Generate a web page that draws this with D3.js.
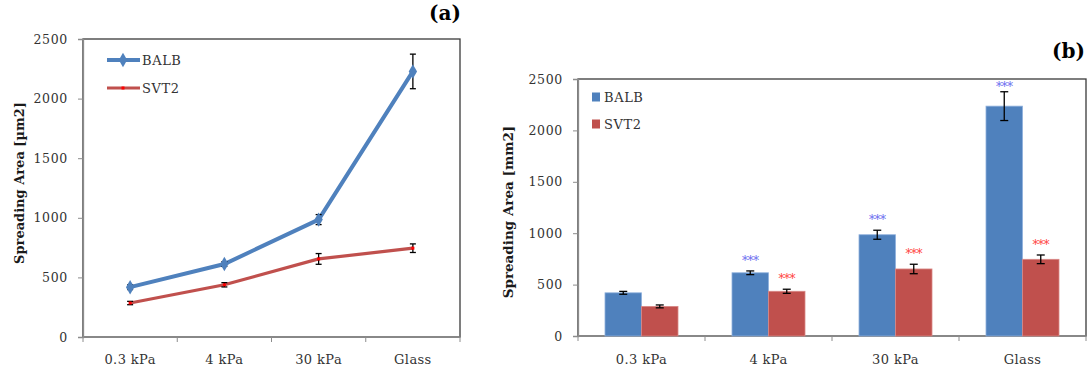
<!DOCTYPE html>
<html>
<head>
<meta charset="utf-8">
<script src="https://d3js.org/d3.v7.min.js"></script>
<style>
  body { margin: 0; background: #fff; }
  svg text { font-family: "DejaVu Serif", serif; }
</style>
</head>
<body>
<div id="chart"></div>
<script>
// Categories and tick values
var categories = ["0.3 kPa", "4 kPa", "30 kPa", "Glass"];
var yTicks = [0, 500, 1000, 1500, 2000, 2500];

// Panel (a): line chart values
var lineBalb = [418, 612, 985, 2228];
var lineBalbErr = [20, 20, 42, 145];
var lineSvt2 = [285, 438, 655, 745];
var lineSvt2Err = [14, 18, 45, 36];

// Panel (b): bar chart values
var barBalb = [420, 615, 985, 2236];
var barBalbErr = [14, 18, 44, 140];
var barSvt2 = [288, 435, 652, 746];
var barSvt2Err = [14, 20, 46, 42];
var barStars = [false, true, true, true];

var blue = "#4f81bd", red = "#c0504d", textCol = "#333333";

var svg = d3.select("#chart")
  .append("svg")
  .attr("width", 1088)
  .attr("height", 372);

// draws the frame, axes and labels common to both panels
function drawFrame(g, x, y, box, title, tag) {
  // plot border
  g.append("rect")
    .attr("x", box.left).attr("y", box.top)
    .attr("width", box.right - box.left).attr("height", box.bottom - box.top)
    .attr("fill", "none").attr("stroke", "#3a3a3a").attr("stroke-width", 1.3);

  // left axis
  var yAxis = g.append("g")
    .attr("transform", "translate(" + box.left + ",0)")
    .call(d3.axisLeft(y).tickValues(yTicks).tickFormat(d3.format("d")).tickSize(5).tickPadding(10));
  yAxis.select(".domain").attr("stroke", "#8c8c8c").attr("stroke-width", 1.3);
  yAxis.selectAll(".tick line").attr("stroke", "#8c8c8c");
  yAxis.selectAll(".tick text")
    .style("font-size", "12.5px").style("letter-spacing", "0.7px").style("fill", textCol);

  // bottom axis with ticks at category boundaries
  var bounds = categories.map(function (c) { return x(c); }).concat([x.range()[1]]);
  g.append("line")
    .attr("x1", box.left).attr("x2", box.right)
    .attr("y1", box.bottom).attr("y2", box.bottom)
    .attr("stroke", "#8c8c8c").attr("stroke-width", 1.3);
  g.selectAll(".xtick").data(bounds).enter().append("line")
    .attr("x1", function (d) { return d; }).attr("x2", function (d) { return d; })
    .attr("y1", box.bottom).attr("y2", box.bottom + 5)
    .attr("stroke", "#8c8c8c");
  g.selectAll(".xlab").data(categories).enter().append("text")
    .attr("x", function (d) { return x(d) + x.bandwidth() / 2; })
    .attr("y", 364)
    .attr("text-anchor", "middle")
    .style("font-size", "13px").style("letter-spacing", "0.4px").style("fill", textCol)
    .text(function (d) { return d; });

  // y title
  g.append("text")
    .attr("transform", "translate(" + title.x + "," + title.y + ") rotate(-90)")
    .attr("text-anchor", "middle")
    .attr("dominant-baseline", "central")
    .style("font-size", title.size + "px").style("font-weight", "bold")
    .style("fill", "#1a1a1a")
    .text(title.text);

  // panel tag
  g.append("text")
    .attr("x", tag.x).attr("y", tag.y)
    .attr("text-anchor", "end")
    .style("font-size", "20px").style("font-weight", "bold")
    .style("fill", "#000")
    .text(tag.text);
}

function errorBar(g, cx, y, v, e, cap) {
  g.append("line")
    .attr("x1", cx).attr("x2", cx).attr("y1", y(v + e)).attr("y2", y(v - e))
    .attr("stroke", "#000").attr("stroke-width", 1.3);
  [v + e, v - e].forEach(function (t) {
    g.append("line")
      .attr("x1", cx - cap / 2).attr("x2", cx + cap / 2).attr("y1", y(t)).attr("y2", y(t))
      .attr("stroke", "#000").attr("stroke-width", 1.3);
  });
}

// ---------- Panel (a) ----------
var boxA = { left: 83, right: 460, top: 39, bottom: 337 };
var gA = svg.append("g");
var xA = d3.scaleBand().domain(categories).range([boxA.left, boxA.right]).padding(0);
var yA = d3.scaleLinear().domain([0, 2500]).range([boxA.bottom, boxA.top]);

drawFrame(gA, xA, yA, boxA,
  { x: 19, y: 183, size: 13, text: "Spreading Area [µm2]" },
  { x: 461, y: 20, text: "(a)" });

var cxA = function (i) { return xA(categories[i]) + xA.bandwidth() / 2; };

var line = d3.line()
  .x(function (d, i) { return cxA(i); })
  .y(function (d) { return yA(d); });

gA.append("path").datum(lineSvt2)
  .attr("d", line).attr("fill", "none").attr("stroke", red).attr("stroke-width", 3.2);
gA.append("path").datum(lineBalb)
  .attr("d", line).attr("fill", "none").attr("stroke", blue).attr("stroke-width", 4);

lineSvt2.forEach(function (v, i) { errorBar(gA, cxA(i), yA, v, lineSvt2Err[i], 6); });
lineBalb.forEach(function (v, i) { errorBar(gA, cxA(i), yA, v, lineBalbErr[i], 6); });

// markers
var diamond = d3.symbol().type(d3.symbolDiamond).size(60);
gA.selectAll(".dia").data(lineBalb).enter().append("path")
  .attr("d", diamond)
  .attr("transform", function (d, i) { return "translate(" + cxA(i) + "," + yA(d) + ")"; })
  .attr("fill", blue);
gA.selectAll(".sq").data(lineSvt2).enter().append("rect")
  .attr("x", function (d, i) { return cxA(i) - 1.5; })
  .attr("y", function (d) { return yA(d) - 1.5; })
  .attr("width", 3).attr("height", 3)
  .attr("fill", "#ff0000");

// legend (a)
var legA = [{ name: "BALB", color: blue, y: 60, w: 4 }, { name: "SVT2", color: red, y: 88, w: 3.2 }];
legA.forEach(function (d, i) {
  gA.append("line").attr("x1", 107).attr("x2", 140).attr("y1", d.y).attr("y2", d.y)
    .attr("stroke", d.color).attr("stroke-width", d.w);
  if (i === 0) {
    gA.append("path").attr("d", diamond)
      .attr("transform", "translate(123," + d.y + ")").attr("fill", blue);
  } else {
    gA.append("rect").attr("x", 121.5).attr("y", d.y - 1.5).attr("width", 3).attr("height", 3)
      .attr("fill", "#ff0000");
  }
  gA.append("text").attr("x", 142).attr("y", d.y + 5)
    .style("font-size", "13px").style("letter-spacing", "0.6px").style("fill", textCol)
    .text(d.name);
});

// ---------- Panel (b) ----------
var boxB = { left: 578, right: 1086, top: 79, bottom: 336 };
var gB = svg.append("g");
var xB = d3.scaleBand().domain(categories).range([boxB.left, boxB.right]).padding(0);
var yB = d3.scaleLinear().domain([0, 2500]).range([boxB.bottom, boxB.top]);
var xSub = d3.scaleBand().domain(["BALB", "SVT2"]).range([-36.5, 36.5]);

drawFrame(gB, xB, yB, boxB,
  { x: 508, y: 212, size: 13.5, text: "Spreading Area [mm2]" },
  { x: 1085, y: 58, text: "(b)" });

var seriesB = [
  { name: "BALB", values: barBalb, err: barBalbErr, color: blue, edge: "#8eb0dc", star: "#6b6bef" },
  { name: "SVT2", values: barSvt2, err: barSvt2Err, color: red, edge: "#d98886", star: "#ff4040" }
];

seriesB.forEach(function (s) {
  gB.selectAll(".bar-" + s.name).data(s.values).enter().append("rect")
    .attr("x", function (d, i) { return xB(categories[i]) + xB.bandwidth() / 2 + xSub(s.name); })
    .attr("y", function (d) { return yB(d); })
    .attr("width", xSub.bandwidth())
    .attr("height", function (d) { return yB(0) - yB(d); })
    .attr("fill", s.color)
    .attr("stroke", s.edge).attr("stroke-width", 0.8);
});

seriesB.forEach(function (s) {
  s.values.forEach(function (v, i) {
    var cx = xB(categories[i]) + xB.bandwidth() / 2 + xSub(s.name) + xSub.bandwidth() / 2;
    errorBar(gB, cx, yB, v, s.err[i], 8);
    if (barStars[i]) {
      var sy = Math.max(boxB.top + 5, yB(v + s.err[i]) - 13);
      gB.append("text")
        .attr("x", cx).attr("y", sy + 7)
        .attr("text-anchor", "middle")
        .style("font-size", "12px").style("letter-spacing", "-0.5px")
        .style("fill", s.star)
        .text("***");
    }
  });
});

// legend (b)
seriesB.forEach(function (s, i) {
  var ly = 97 + i * 27;
  gB.append("rect").attr("x", 592).attr("y", ly - 4.5).attr("width", 8).attr("height", 9)
    .attr("fill", s.color);
  gB.append("text").attr("x", 604).attr("y", ly + 5)
    .style("font-size", "13px").style("letter-spacing", "0.6px").style("fill", textCol)
    .text(s.name);
});
</script>
</body>
</html>
